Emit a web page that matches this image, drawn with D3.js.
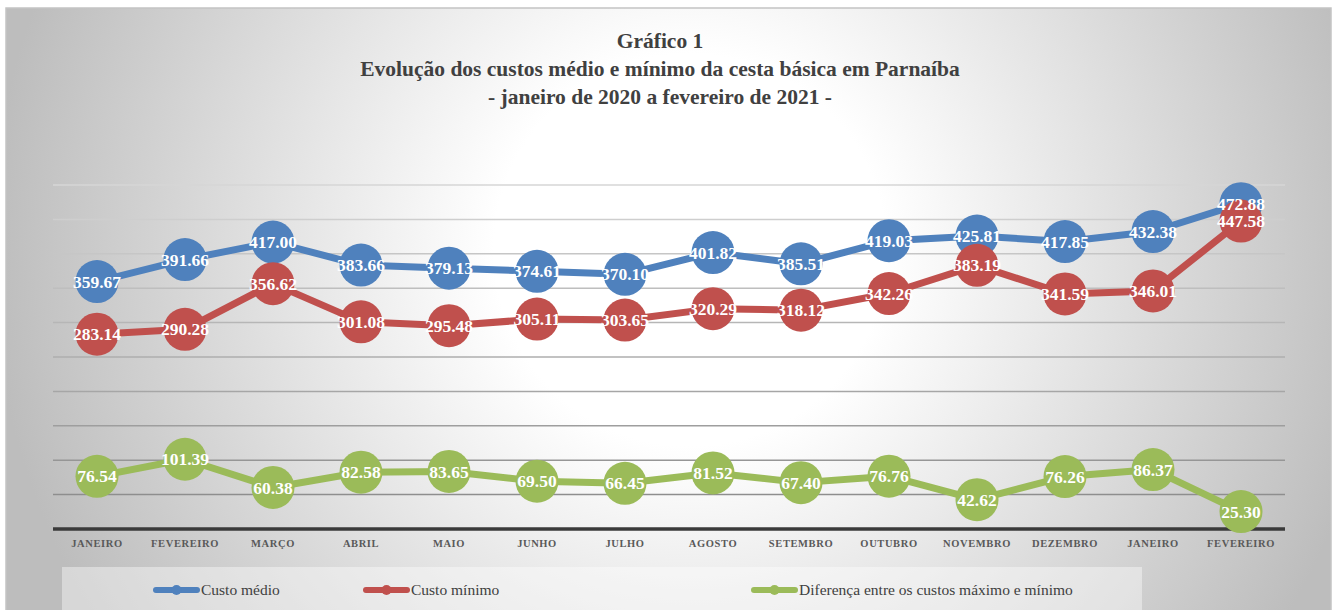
<!DOCTYPE html>
<html>
<head>
<meta charset="utf-8">
<script src="https://cdn.jsdelivr.net/npm/d3@7"></script>
<style>
  body { margin: 0; background: #fff; }
  svg { display: block; }
  text { font-family: "Liberation Serif", "DejaVu Serif", serif; }
</style>
</head>
<body>
<div id="chart"></div>
<script>
"use strict";

const WIDTH = 1333, HEIGHT = 610;
const SERIF = "'Liberation Serif', 'DejaVu Serif', serif";

var months = ["JANEIRO", "FEVEREIRO", "MARÇO", "ABRIL", "MAIO", "JUNHO", "JULHO",
  "AGOSTO", "SETEMBRO", "OUTUBRO", "NOVEMBRO", "DEZEMBRO", "JANEIRO", "FEVEREIRO"];
var custoMedio = [359.67, 391.66, 417.00, 383.66, 379.13, 374.61, 370.10,
  401.82, 385.51, 419.03, 425.81, 417.85, 432.38, 472.88];
var custoMinimo = [283.14, 290.28, 356.62, 301.08, 295.48, 305.11, 303.65,
  320.29, 318.12, 342.26, 383.19, 341.59, 346.01, 447.58];
var diferenca = [76.54, 101.39, 60.38, 82.58, 83.65, 69.50, 66.45,
  81.52, 67.40, 76.76, 42.62, 76.26, 86.37, 25.30];
var yTicks = [50, 100, 150, 200, 250, 300, 350, 400, 450, 500];
var titleLines = ["Gráfico 1",
  "Evolução dos custos médio e mínimo da cesta básica em Parnaíba",
  "- janeiro de 2020 a fevereiro de 2021 -"];

var series = [
  { name: "Diferença entre os custos máximo e mínimo", values: diferenca, color: "#9bbb59", legendX: 754 },
  { name: "Custo médio", values: custoMedio, color: "#4f81bd", legendX: 156 },
  { name: "Custo mínimo", values: custoMinimo, color: "#c0504d", legendX: 366 }
];

var svg = d3.select("#chart").append("svg")
  .attr("width", WIDTH)
  .attr("height", HEIGHT);

var defs = svg.append("defs");
var grad = defs.append("radialGradient")
  .attr("id", "bg")
  .attr("gradientUnits", "userSpaceOnUse")
  .attr("cx", 690).attr("cy", 250).attr("r", 700);
grad.append("stop").attr("offset", "0%").attr("stop-color", "#ffffff");
grad.append("stop").attr("offset", "28%").attr("stop-color", "#ffffff");
grad.append("stop").attr("offset", "100%").attr("stop-color", "#bdbdbd");

// chart background
svg.append("rect")
  .attr("x", 6).attr("y", 8)
  .attr("width", 1325).attr("height", 610)
  .attr("fill", "url(#bg)")
  .attr("stroke", "#c4c4c4")
  .attr("stroke-width", 1.5);

var x = d3.scaleBand()
  .domain(d3.range(months.length))
  .range([53, 1285]);
var y = d3.scaleLinear()
  .domain([0, 500])
  .range([529, 185]);

var gridColor = d3.scaleLinear()
  .domain([500, 50])
  .range(["#d6d6d6", "#8e8e8e"]);

// gridlines
svg.append("g")
  .selectAll("line")
  .data(yTicks)
  .join("line")
  .attr("x1", 53).attr("x2", 1285)
  .attr("y1", d => y(d)).attr("y2", d => y(d))
  .attr("stroke", d => gridColor(d))
  .attr("stroke-width", 1.5);

// category axis
var xAxis = svg.append("g")
  .attr("transform", "translate(0," + y(0) + ")")
  .call(d3.axisBottom(x).tickSize(0).tickPadding(11).tickFormat(i => months[i]));
xAxis.select(".domain")
  .attr("d", "M53,0H1285")
  .attr("stroke", "#3a3a3a")
  .attr("stroke-width", 3.5);
xAxis.selectAll("text")
  .attr("font-family", SERIF)
  .attr("font-size", 10.5)
  .attr("font-weight", "bold")
  .attr("letter-spacing", 0.6)
  .attr("fill", "#595959");

var cx = i => x(i) + x.bandwidth() / 2;
var line = d3.line()
  .x((d, i) => cx(i))
  .y(d => y(d));

series.forEach(function (s) {
  var g = svg.append("g");
  g.append("path")
    .datum(s.values)
    .attr("fill", "none")
    .attr("stroke", s.color)
    .attr("stroke-width", 7)
    .attr("stroke-linejoin", "round")
    .attr("d", line);
  g.selectAll("circle")
    .data(s.values)
    .join("circle")
    .attr("cx", (d, i) => cx(i))
    .attr("cy", d => y(d))
    .attr("r", 21.5)
    .attr("fill", s.color);
});

// value labels on top
series.forEach(function (s) {
  svg.append("g")
    .selectAll("text")
    .data(s.values)
    .join("text")
    .attr("x", (d, i) => cx(i))
    .attr("y", d => y(d))
    .attr("dy", "0.35em")
    .attr("text-anchor", "middle")
    .attr("font-family", SERIF)
    .attr("font-size", 17.5)
    .attr("font-weight", "bold")
    .attr("fill", "#ffffff")
    .text(d => d.toFixed(2));
});

// title
svg.append("g")
  .selectAll("text")
  .data(titleLines)
  .join("text")
  .attr("x", 660)
  .attr("y", (d, i) => 48 + i * 28)
  .attr("text-anchor", "middle")
  .attr("font-family", SERIF)
  .attr("font-size", 21.5)
  .attr("font-weight", "bold")
  .attr("fill", "#404040")
  .text(d => d);

// legend
svg.append("rect")
  .attr("x", 62).attr("y", 567)
  .attr("width", 1080).attr("height", 50)
  .attr("fill", "#ffffff")
  .attr("fill-opacity", 0.4);

var legend = svg.append("g")
  .selectAll("g")
  .data(series)
  .join("g")
  .attr("transform", d => "translate(" + d.legendX + ",590)");
legend.append("line")
  .attr("x1", 0).attr("x2", 41)
  .attr("stroke", d => d.color)
  .attr("stroke-width", 6)
  .attr("stroke-linecap", "round");
legend.append("circle")
  .attr("cx", 20.5).attr("r", 5)
  .attr("fill", d => d.color);
legend.append("text")
  .attr("x", 45)
  .attr("dy", "0.35em")
  .attr("font-family", SERIF)
  .attr("font-size", 15.5)
  .attr("fill", "#404040")
  .text(d => d.name);
</script>
</body>
</html>
